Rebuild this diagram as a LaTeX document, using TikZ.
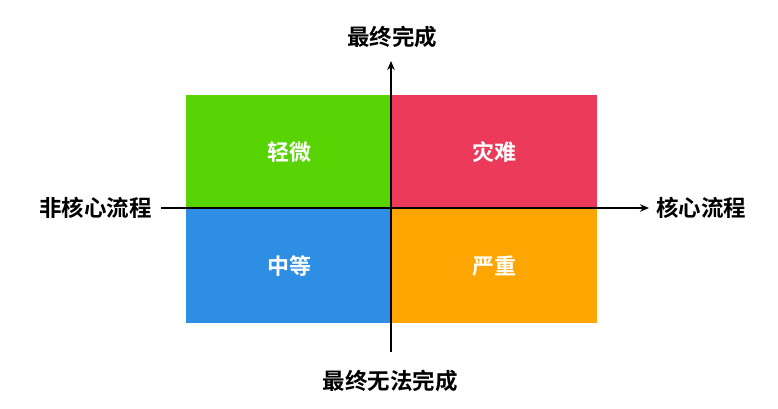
\documentclass[tikz,border=0pt]{standalone}
\usepackage{fontspec}
\newfontfamily\cjk{Noto Sans CJK SC}[BoldFont={* Bold}]
\usetikzlibrary{arrows.meta}
\definecolor{qgreen}{RGB}{88,212,4}
\definecolor{qred}{RGB}{236,58,90}
\definecolor{qblue}{RGB}{46,142,228}
\definecolor{qorange}{RGB}{253,165,0}
\tikzset{
  qtext/.style={text=white, font=\cjk\bfseries\fontsize{22}{26}\selectfont},
  atext/.style={text=black, font=\cjk\bfseries\fontsize{22.5}{26}\selectfont, inner sep=0pt},
  axis/.style={line width=2.7pt, -{Stealth[length=9pt,width=7.5pt]}}
}
\begin{document}
\begin{tikzpicture}[x=1pt,y=-1pt]
\useasboundingbox (0,0) rectangle (778,408);
\fill[qgreen] (186,95) rectangle (391,208);
\fill[qred] (391,95) rectangle (597,208);
\fill[qblue] (186,208) rectangle (391,323);
\fill[qorange] (391,208) rectangle (597,323);
\node[qtext] (q1) at (289,152) {轻微};
\node[qtext] (q2) at (494,152) {灾难};
\node[qtext] (q3) at (289,266) {中等};
\node[qtext] (q4) at (494,266) {严重};
\coordinate (vb) at (391,352);
\coordinate (vt) at (391,61);
\coordinate (hl) at (161,208);
\coordinate (hr) at (649,208);
\draw[axis] (vb) -- (vt);
\draw[axis] (hl) -- (hr);
\node[atext] (top) at (392,37) {最终完成};
\node[atext] (bot) at (390,381) {最终无法完成};
\node[atext, anchor=east] (left) at (152,208) {非核心流程};
\node[atext, anchor=west] (right) at (656,208) {核心流程};
\end{tikzpicture}
\end{document}
